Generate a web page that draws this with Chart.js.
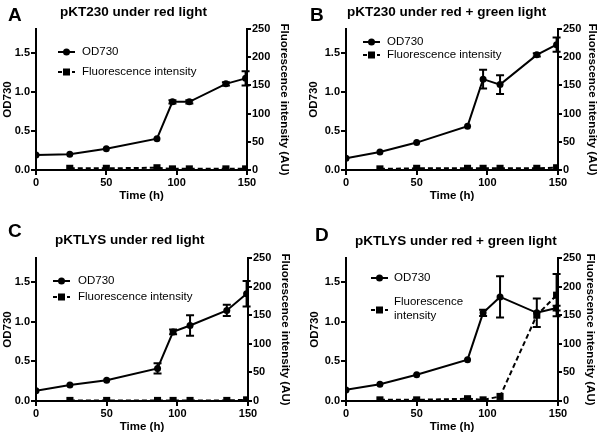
<!DOCTYPE html>
<html>
<head>
<meta charset="utf-8">
<script src="https://cdn.jsdelivr.net/npm/chart.js@4.4.1/dist/chart.umd.min.js"></script>
<style>
  body { margin: 0; background: #fff; }
  #wrap { position: relative; width: 600px; height: 435px; font-family: 'Liberation Sans', Arial, Helvetica, sans-serif; }
  canvas { position: absolute; }
  .letter { position: absolute; font-size: 19px; line-height: 19px; font-weight: bold; }
  .title { position: absolute; font-size: 13.5px; line-height: 13.5px; font-weight: bold; white-space: nowrap; }
</style>
</head>
<body>
<div id="wrap">
  <canvas id="chartA" width="300" height="215" style="left:0;top:0"></canvas>
  <canvas id="chartB" width="300" height="215" style="left:300px;top:0"></canvas>
  <canvas id="chartC" width="300" height="220" style="left:0;top:215px"></canvas>
  <canvas id="chartD" width="300" height="220" style="left:300px;top:215px"></canvas>
  <div class="letter" style="left:8px;top:5px">A</div>
  <div class="title" style="left:60px;top:5px">pKT230 under red light</div>
  <div class="letter" style="left:310px;top:5px">B</div>
  <div class="title" style="left:347px;top:5px">pKT230 under red + green light</div>
  <div class="letter" style="left:8px;top:221px">C</div>
  <div class="title" style="left:55px;top:233px">pKTLYS under red light</div>
  <div class="letter" style="left:315px;top:225px">D</div>
  <div class="title" style="left:355px;top:234px">pKTLYS under red + green light</div>
</div>
<script>
// sampling times (h)
var time = [0, 24, 50, 86, 97, 109, 135, 149];

// A: pKT230 under red light
var odA = [0.19, 0.20, 0.27, 0.40, 0.87, 0.87, 1.10, 1.17];
var odErrA = [0, 0, 0, 0, 0.02, 0.02, 0.02, 0.09];
var flA = [null, 3, 3, 4, 2, 2, 2, 2];
var flErrA = [0, 0, 0, 0, 0, 0, 0, 0];

// B: pKT230 under red + green light
var odB = [0.15, 0.23, 0.35, 0.56, 1.16, 1.09, 1.47, 1.60];
var odErrB = [0, 0, 0, 0, 0.12, 0.12, 0.02, 0.09];
var flB = [null, 2, 3, 3, 3, 3, 3, 4];
var flErrB = [0, 0, 0, 0, 0, 0, 0, 0];

// C: pKTLYS under red light
var odC = [0.13, 0.20, 0.26, 0.41, 0.87, 0.95, 1.14, 1.35];
var odErrC = [0, 0, 0, 0.065, 0.03, 0.13, 0.07, 0.16];
var flC = [null, 1, 1, 1, 1, 1, 1, 2];
var flErrC = [0, 0, 0, 0, 0, 0, 0, 0];

// D: pKTLYS under red + green light
var odD = [0.14, 0.21, 0.33, 0.52, 1.11, 1.31, 1.11, 1.17];
var odErrD = [0, 0, 0, 0, 0.04, 0.26, 0.18, 0.03];
var flD = [null, 2, 2, 4, 2, 8, 150, 185];
var flErrD = [0, 0, 0, 0, 0, 0, 0, 37];

var xTicks = [0, 50, 100, 150];
var odTicks = [0, 0.5, 1.0, 1.5];
var flTicks = [0, 50, 100, 150, 200, 250];

Chart.defaults.font.family = "'Liberation Sans', Arial, Helvetica, sans-serif";
Chart.defaults.color = "#000";

function points(vals) {
  var out = [];
  vals.forEach(function(v, i) { if (v !== null) out.push({ x: time[i], y: v }); });
  return out;
}
function errs(vals, e) {
  var out = [];
  vals.forEach(function(v, i) { if (v !== null) out.push(e[i]); });
  return out;
}

// vertical error bars with caps
var errorBars = {
  id: "errorBars",
  afterDatasetsDraw: function(chart) {
    var ctx = chart.ctx;
    chart.data.datasets.forEach(function(ds, i) {
      if (!ds.errors) return;
      var meta = chart.getDatasetMeta(i);
      var ys = chart.scales[ds.yAxisID];
      ctx.save();
      ctx.strokeStyle = "#000";
      ctx.lineWidth = 2;
      ctx.setLineDash([]);
      meta.data.forEach(function(pt, j) {
        var e = ds.errors[j];
        if (!e) return;
        var v = ds.data[j].y;
        var top = ys.getPixelForValue(v + e), bot = ys.getPixelForValue(v - e);
        ctx.beginPath();
        ctx.moveTo(pt.x, top); ctx.lineTo(pt.x, bot);
        ctx.moveTo(pt.x - 4, top); ctx.lineTo(pt.x + 4, top);
        ctx.moveTo(pt.x - 4, bot); ctx.lineTo(pt.x + 4, bot);
        ctx.stroke();
      });
      ctx.restore();
    });
  }
};

// legend drawn inside the plot area
var innerLegend = {
  id: "innerLegend",
  afterDraw: function(chart) {
    var o = chart.options.plugins.innerLegend;
    if (!o) return;
    var ctx = chart.ctx;
    ctx.save();
    ctx.strokeStyle = "#000";
    ctx.fillStyle = "#000";
    ctx.lineWidth = 2;
    // OD730
    ctx.setLineDash([]);
    ctx.beginPath();
    ctx.moveTo(o.symX, o.odY); ctx.lineTo(o.symX + 17, o.odY);
    ctx.stroke();
    ctx.beginPath();
    ctx.arc(o.symX + 8.5, o.odY, 3.5, 0, Math.PI * 2);
    ctx.fill();
    // fluorescence
    ctx.setLineDash([4, 3]);
    ctx.beginPath();
    ctx.moveTo(o.symX, o.flSymY); ctx.lineTo(o.symX + 17, o.flSymY);
    ctx.stroke();
    ctx.setLineDash([]);
    ctx.fillRect(o.symX + 5, o.flSymY - 3.5, 7, 7);
    ctx.font = "11.5px 'Liberation Sans', Arial, Helvetica, sans-serif";
    ctx.textBaseline = "middle";
    ctx.textAlign = "left";
    ctx.fillText("OD730", o.textX, o.odY);
    o.flLines.forEach(function(line, k) {
      ctx.fillText(line, o.textX, o.flY + k * 13.5);
    });
    ctx.restore();
  }
};

function makePanel(id, od, odErr, fl, flErr, lay, legend) {
  new Chart(document.getElementById(id), {
    type: "line",
    data: {
      datasets: [
        {
          label: "OD730",
          data: points(od),
          errors: errs(od, odErr),
          yAxisID: "y",
          borderColor: "#000",
          backgroundColor: "#000",
          borderWidth: 2,
          pointStyle: "circle",
          pointRadius: 3.5,
          pointBorderWidth: 0,
          tension: 0
        },
        {
          label: "Fluorescence intensity",
          data: points(fl),
          errors: errs(fl, flErr),
          yAxisID: "y2",
          borderColor: "#000",
          backgroundColor: "#000",
          borderWidth: 2,
          borderDash: [5, 3],
          pointStyle: "rect",
          pointRadius: 5,
          pointBorderWidth: 0,
          tension: 0
        }
      ]
    },
    options: {
      responsive: false,
      animation: false,
      layout: { padding: { top: lay.top, bottom: lay.bottom, left: lay.padL, right: lay.padR } },
      plugins: {
        legend: { display: false },
        tooltip: { enabled: false },
        innerLegend: legend
      },
      scales: {
        x: {
          type: "linear",
          min: 0, max: 150,
          afterBuildTicks: function(s) { s.ticks = xTicks.map(function(v) { return { value: v }; }); },
          afterFit: function(s) { s.height = 33; },
          border: { display: true, color: "#000", width: 2 },
          grid: { drawOnChartArea: false, drawTicks: true, tickLength: 5, color: "#000", lineWidth: 2 },
          ticks: { padding: 1, font: { size: 11, weight: "bold" }, maxRotation: 0 },
          title: { display: true, text: "Time (h)", font: { size: 11.5, weight: "bold" }, padding: { top: 0, bottom: 0 } }
        },
        y: {
          type: "linear",
          position: "left",
          min: 0, max: 1.8,
          afterBuildTicks: function(s) { s.ticks = odTicks.map(function(v) { return { value: v }; }); },
          afterFit: function(s) { s.width = lay.yW; },
          border: { display: true, color: "#000", width: 2 },
          grid: { drawOnChartArea: false, drawTicks: true, tickLength: 5, color: "#000", lineWidth: 2 },
          ticks: { padding: 1, font: { size: 11, weight: "bold" }, callback: function(v) { return v.toFixed(1); } },
          title: { display: true, text: "OD730", font: { size: 11.5, weight: "bold" }, padding: { top: 1, bottom: 0 } }
        },
        y2: {
          type: "linear",
          position: "right",
          min: 0, max: 250,
          afterBuildTicks: function(s) { s.ticks = flTicks.map(function(v) { return { value: v }; }); },
          afterFit: function(s) { s.width = lay.y2W; },
          border: { display: true, color: "#000", width: 2 },
          grid: { drawOnChartArea: false, drawTicks: true, tickLength: 4, color: "#000", lineWidth: 2 },
          ticks: { padding: 1, font: { size: 11, weight: "bold" } },
          title: { display: true, text: "Fluorescence intensity (AU)", font: { size: 11.5, weight: "bold" }, padding: { top: 1, bottom: 0 } }
        }
      }
    },
    plugins: [errorBars, innerLegend]
  });
}

makePanel("chartA", odA, odErrA, flA, flErrA,
  { top: 29, bottom: 12, padL: 0, yW: 36, padR: 8, y2W: 45 },
  { symX: 58, textX: 82, odY: 52, flSymY: 72, flY: 72, flLines: ["Fluorescence intensity"] });
makePanel("chartB", odB, odErrB, flB, flErrB,
  { top: 29, bottom: 12, padL: 6, yW: 40, padR: 0, y2W: 42 },
  { symX: 63, textX: 87, odY: 42, flSymY: 55, flY: 55, flLines: ["Fluorescence intensity"] });
makePanel("chartC", odC, odErrC, flC, flErrC,
  { top: 43, bottom: 1, padL: 0, yW: 36, padR: 7, y2W: 45 },
  { symX: 53, textX: 78, odY: 66, flSymY: 82, flY: 82, flLines: ["Fluorescence intensity"] });
makePanel("chartD", odD, odErrD, flD, flErrD,
  { top: 43, bottom: 1, padL: 7, yW: 39, padR: 2, y2W: 40 },
  { symX: 71, textX: 94, odY: 63, flSymY: 95, flY: 87, flLines: ["Fluorescence", "intensity"] });
</script>
</body>
</html>
